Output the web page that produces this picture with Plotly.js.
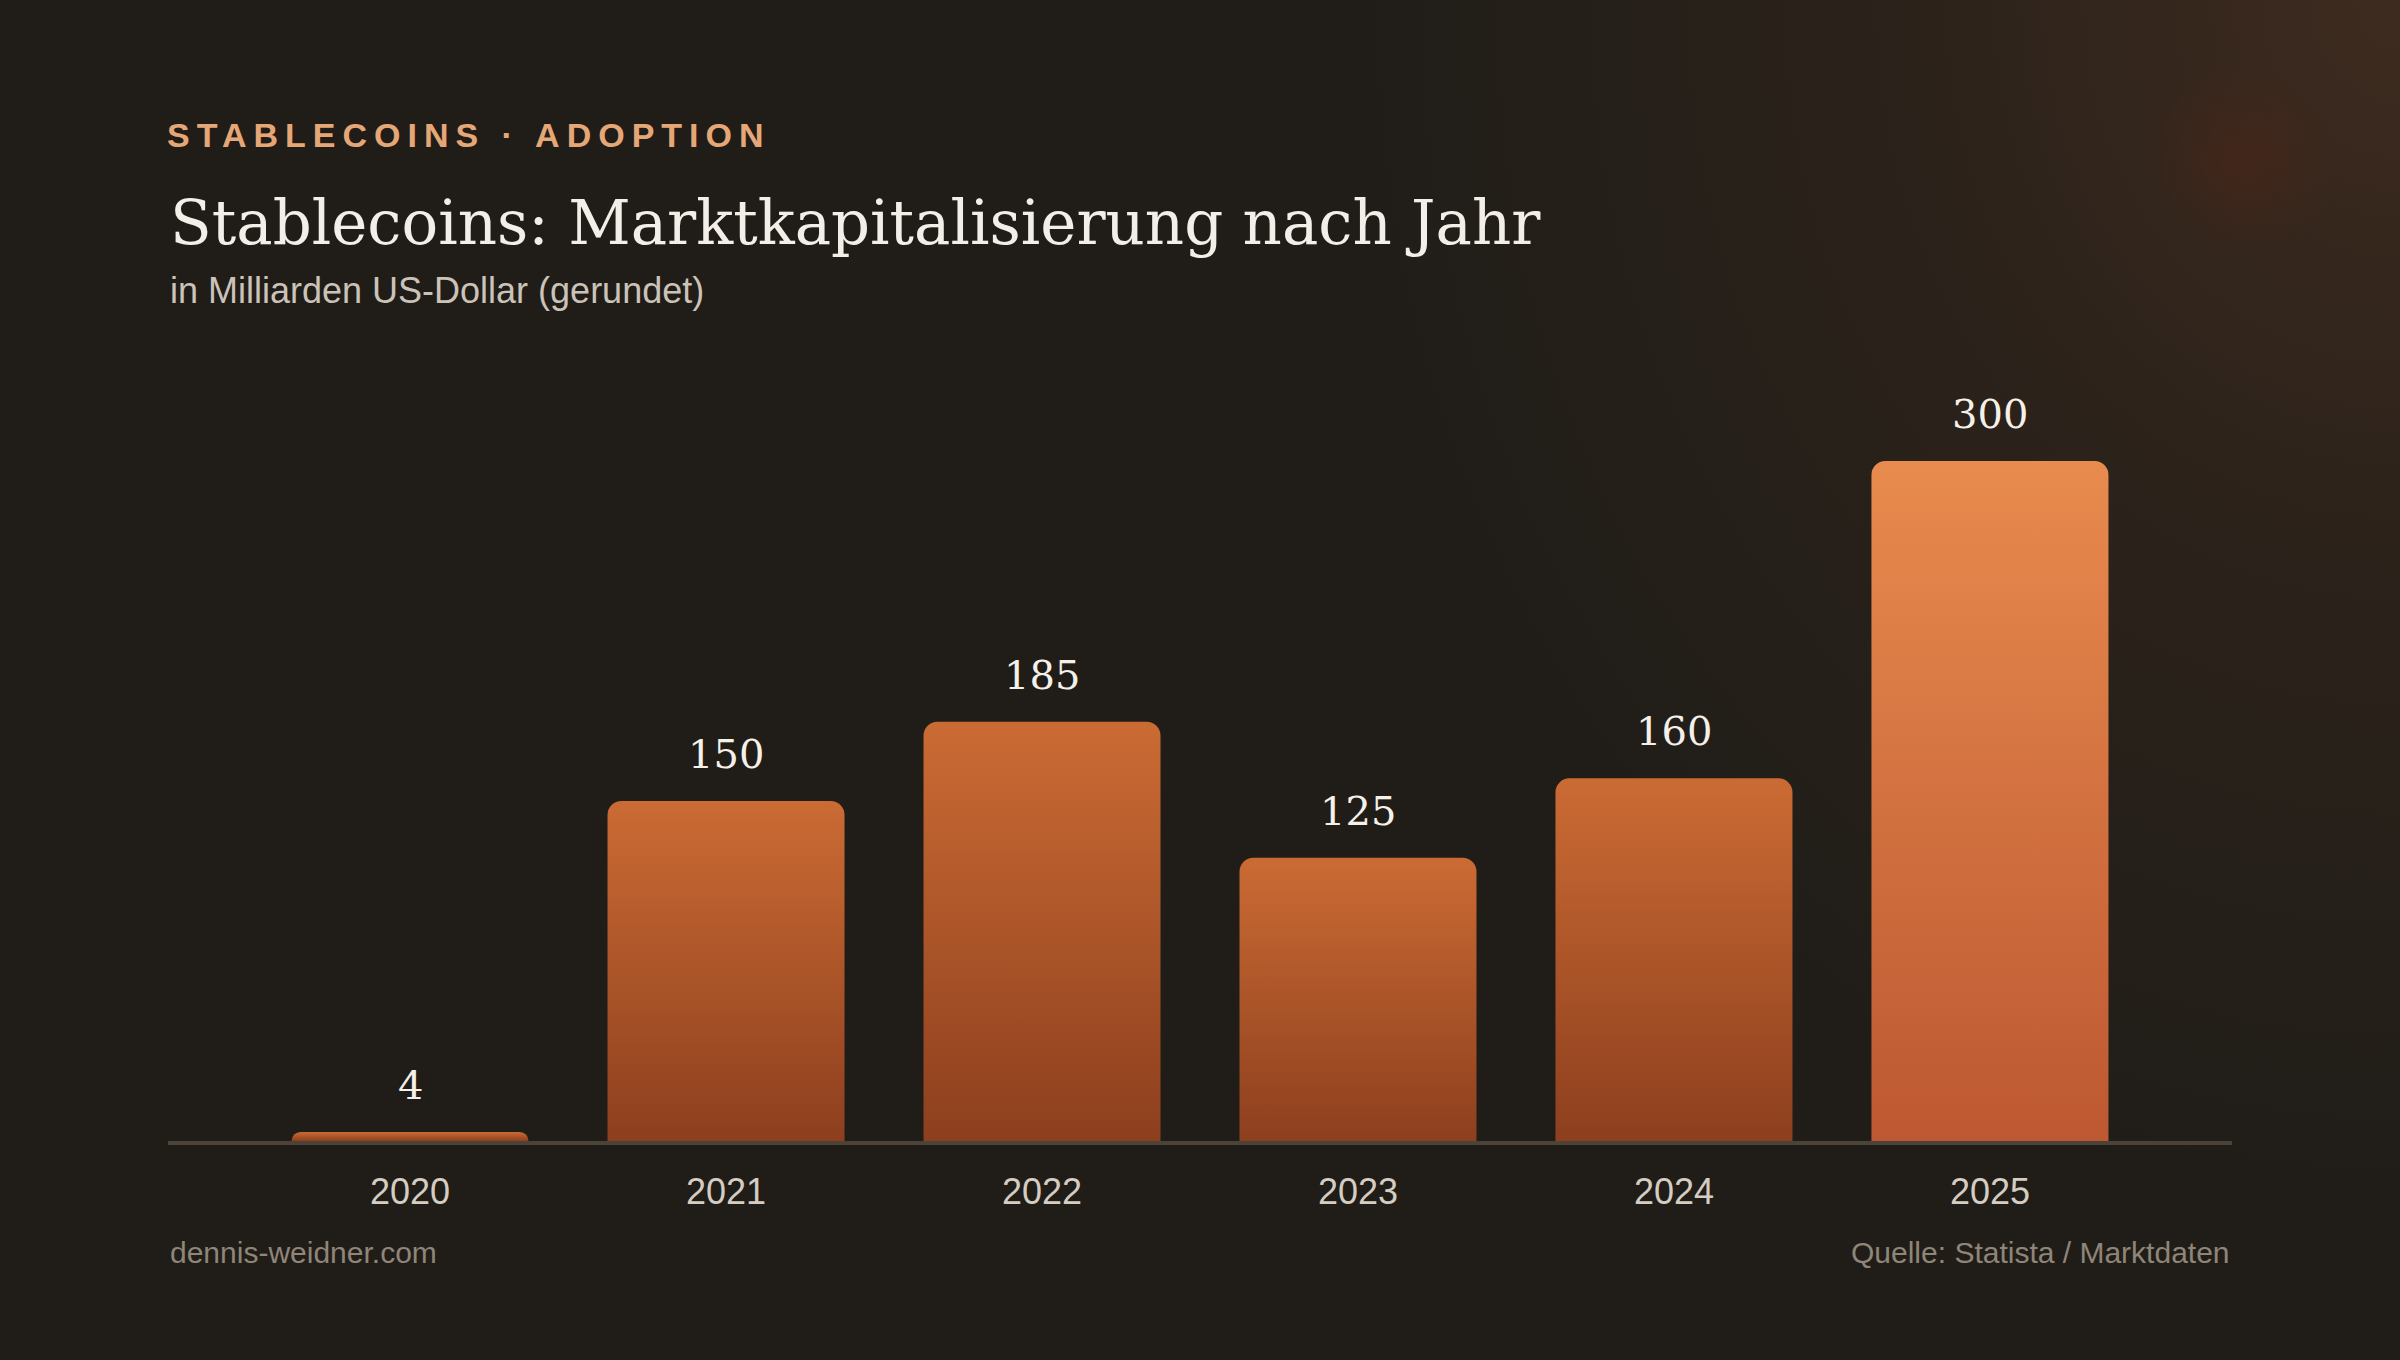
<!DOCTYPE html>
<html lang="de">
<head>
<meta charset="utf-8">
<title>Stablecoins: Marktkapitalisierung nach Jahr</title>
<script src="https://cdn.plot.ly/plotly-3.0.1.min.js"></script>
<style>
  html, body { margin: 0; padding: 0; }
  body {
    width: 2400px; height: 1360px; overflow: hidden;
    background-color: #201d18;
    background-image:
      radial-gradient(circle 95px at 2242px 160px, rgba(88, 36, 22, 0.38) 0%, rgba(88, 36, 22, 0) 100%),
      radial-gradient(ellipse 1050px 1200px at 2400px 0px, rgba(62, 43, 31, 1) 0%, rgba(50, 37, 28, 0.65) 45%, rgba(32, 29, 24, 0) 100%);
  }
  #chart { width: 2400px; height: 1360px; }
  /* tracked-out kicker line above the title */
  #chart .annotation[data-index="0"] text { letter-spacing: 7px; }
</style>
</head>
<body>
<svg width="0" height="0" style="position:absolute">
  <defs>
    <linearGradient id="barWarm" x1="0" y1="0" x2="0" y2="1">
      <stop offset="0%" stop-color="#cb6b34"/>
      <stop offset="100%" stop-color="#8d3f1e"/>
    </linearGradient>
    <linearGradient id="barHot" x1="0" y1="0" x2="0" y2="1">
      <stop offset="0%" stop-color="#e88b4e"/>
      <stop offset="100%" stop-color="#bd5832"/>
    </linearGradient>
  </defs>
</svg>
<div id="chart"></div>
<script>
// Stablecoin market cap, billions of US dollars (rounded)
const years = ["2020", "2021", "2022", "2023", "2024", "2025"];
const marketCap = [4, 150, 185, 125, 160, 300];
const highlightYear = "2025";

const kicker = "STABLECOINS · ADOPTION";
const title = "Stablecoins: Marktkapitalisierung nach Jahr";
const subtitle = "in Milliarden US-Dollar (gerundet)";
const footerLeft = "dennis-weidner.com";
const footerRight = "Quelle: Statista / Marktdaten";

// page geometry (pixels)
const W = 2400, H = 1360;
const M = { l: 168, r: 168, t: 393, b: 219 };
const plotH = H - M.t - M.b;
const paperY = px => (H - M.b - px) / plotH;

const SERIF = "'DejaVu Serif', 'Liberation Serif', serif";
const SANS = "'Liberation Sans', Arial, Helvetica, sans-serif";

const KICKER_TRACKING = 7;

const warm = "#b0552a", hot = "#d9743f";
const barColors = years.map(y => (y === highlightYear ? hot : warm));

const bars = {
  type: "bar",
  x: years,
  y: marketCap,
  width: 0.75,
  marker: { color: barColors, cornerradius: 14, line: { width: 0 } },
  hoverinfo: "none"
};

// value labels sit above each bar; category axes take the serial index
const valueLabels = years.map((y, i) => ({
  x: i, y: marketCap[i], xref: "x", yref: "y",
  text: String(marketCap[i]), showarrow: false,
  xanchor: "center", yanchor: "bottom", yshift: 22,
  font: { family: SERIF, size: 40, color: "#f5f0e8" }
}));

const textBlocks = [
  // letter-spacing widens the kicker around its middle, so shift it back to the left edge
  { text: kicker, y: paperY(135), xshift: (kicker.length - 1) * KICKER_TRACKING / 2,
    font: { family: SANS, size: 34, color: "#e6a777", weight: 700 } },
  { text: title, y: paperY(222), font: { family: SERIF, size: 61, color: "#f3efe8" } },
  { text: subtitle, y: paperY(290), font: { family: SANS, size: 36, color: "#cbc3b8" } },
  { text: footerLeft, y: paperY(1252), font: { family: SANS, size: 30, color: "#8f8579" } }
].map(a => Object.assign({
  x: 0, xref: "paper", yref: "paper", xanchor: "left", yanchor: "middle", showarrow: false
}, a));

textBlocks.push({
  text: footerRight, x: 1, y: paperY(1252), xref: "paper", yref: "paper",
  xanchor: "right", yanchor: "middle", showarrow: false,
  font: { family: SANS, size: 30, color: "#8f8579" }
});

const layout = {
  width: W, height: H,
  margin: M,
  paper_bgcolor: "rgba(0,0,0,0)",
  plot_bgcolor: "rgba(0,0,0,0)",
  showlegend: false,
  xaxis: {
    type: "category",
    range: [-0.766, years.length - 1 + 0.766],
    showline: true, linecolor: "#4b4238", linewidth: 4,
    showgrid: false, zeroline: false, ticks: "",
    ticklabelstandoff: 16,
    tickfont: { family: SANS, size: 36, color: "#d5cdc2" },
    fixedrange: true
  },
  yaxis: {
    range: [0, 330],
    showgrid: false, zeroline: false, showline: false,
    showticklabels: false, ticks: "", fixedrange: true
  },
  annotations: textBlocks.concat(valueLabels)
};

const el = document.getElementById("chart");
Plotly.newPlot(el, [bars], layout, { staticPlot: true, displayModeBar: false }).then(() => {
  // vertical gradient fill on each bar, brighter for the highlighted year
  el.querySelectorAll(".barlayer .trace .point path").forEach((p, i) => {
    p.style.fill = years[i] === highlightYear ? "url(#barHot)" : "url(#barWarm)";
  });
});
</script>
</body>
</html>
